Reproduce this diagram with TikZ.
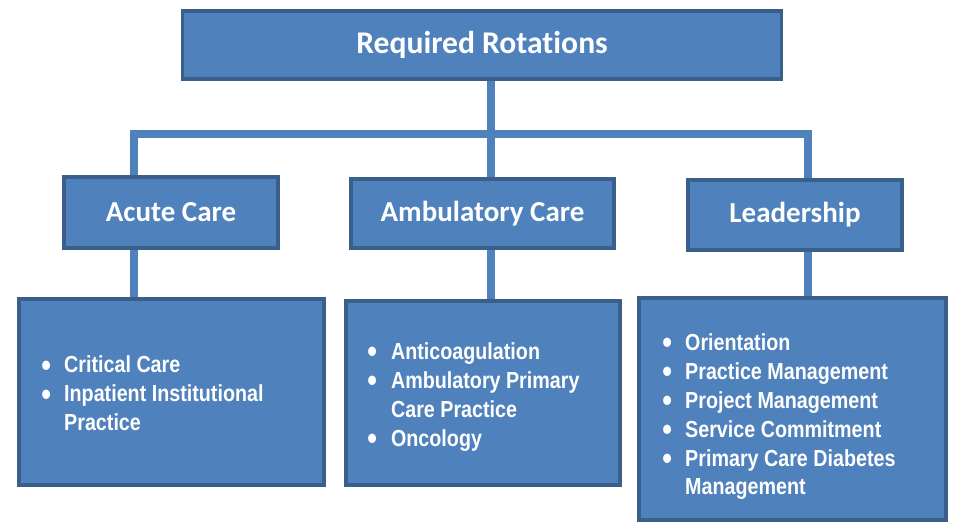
\documentclass[tikz,border=0pt]{standalone}
\usepackage{fontspec}
\setmainfont{Liberation Sans}
\newfontfamily\headfont[Ligatures=NoCommon]{Carlito}
\newfontfamily\listfont[FakeStretch=0.85]{Liberation Sans}
\usetikzlibrary{positioning, backgrounds}

\definecolor{boxblue}{HTML}{4F81BD}
\definecolor{boxedge}{HTML}{3A5F8B}

\newcommand{\bul}{\smash{\raisebox{-0.14em}{\scalebox{1.4}{\textbullet}}}}

\tikzset{
	head/.style={draw=boxedge, fill=boxblue, line width=2.2pt, text=white, inner sep=0pt,
		font=\headfont\bfseries\fontsize{16.5}{20}\selectfont},
	listbox/.style={draw=boxedge, fill=boxblue, line width=2.2pt, inner sep=0pt},
	items/.style={text=white, inner sep=0pt, anchor=west, align=left,
		font=\listfont\bfseries\fontsize{13.2}{16.4}\selectfont},
	link/.style={draw=boxblue, line width=4.5pt}
}

\begin{document}
\begin{tikzpicture}[x=0.2mm, y=-0.2mm]
			\useasboundingbox (0,0) rectangle (953,526);

			\node[head, minimum width=119.8mm, minimum height=13.6mm,
				font=\headfont\bfseries\fontsize{18}{22}\selectfont] (top) at (482,45) {Required Rotations};

			\node[head, minimum width=42.8mm, minimum height=14.2mm] (acute) at (171,212.5) {Acute Care};
			\node[head, minimum width=52.6mm, minimum height=13.8mm] (amb) at (482.5,213.5) {Ambulatory Care};
			\node[head, minimum width=42.8mm, minimum height=14mm] (lead) at (795,215) {Leadership};

			\node[listbox, minimum width=61mm, minimum height=37.2mm] (acutelist) at (171.5,392) {};
			\node[listbox, minimum width=54.8mm, minimum height=36.8mm] (amblist) at (483,393) {};
			\node[listbox, minimum width=61.4mm, minimum height=44.4mm] (leadlist) at (792.5,409) {};

			\node[items] (acuteitems) at (41,396) {\begin{tabular}{@{}p{13pt}@{}l@{}}
				\bul & Critical Care\\
				\bul & Inpatient Institutional\\
				& Practice
			\end{tabular}};
			\node[items] (ambitems) at (367,397) {\begin{tabular}{@{}p{13.5pt}@{}l@{}}
				\bul & Anticoagulation\\
				\bul & Ambulatory Primary\\
				& Care Practice\\
				\bul & Oncology
			\end{tabular}};
			\node[items] (leaditems) at (662,417) {\begin{tabular}{@{}p{13pt}@{}l@{}}
				\bul & Orientation\\
				\bul & Practice Management\\
				\bul & Project Management\\
				\bul & Service Commitment\\
				\bul & Primary Care Diabetes\\
				& Management
			\end{tabular}};

			% connectors sit behind the boxes
			\coordinate (barL) at (134,134);
			\coordinate (hub) at (491,134);
			\coordinate (barR) at (808,134);
			\begin{scope}[on background layer]
				\draw[link] (hub |- top.south) -- (hub |- amb.north);
				\draw[link] (barL |- acute.north) -- (barL) -- (barR) -- (barR |- lead.north);
				\draw[link] (barL |- acute.south) -- (barL |- acutelist.north);
				\draw[link] (hub |- amb.south) -- (hub |- amblist.north);
				\draw[link] (barR |- lead.south) -- (barR |- leadlist.north);
			\end{scope}

		\end{tikzpicture}
\end{document}
